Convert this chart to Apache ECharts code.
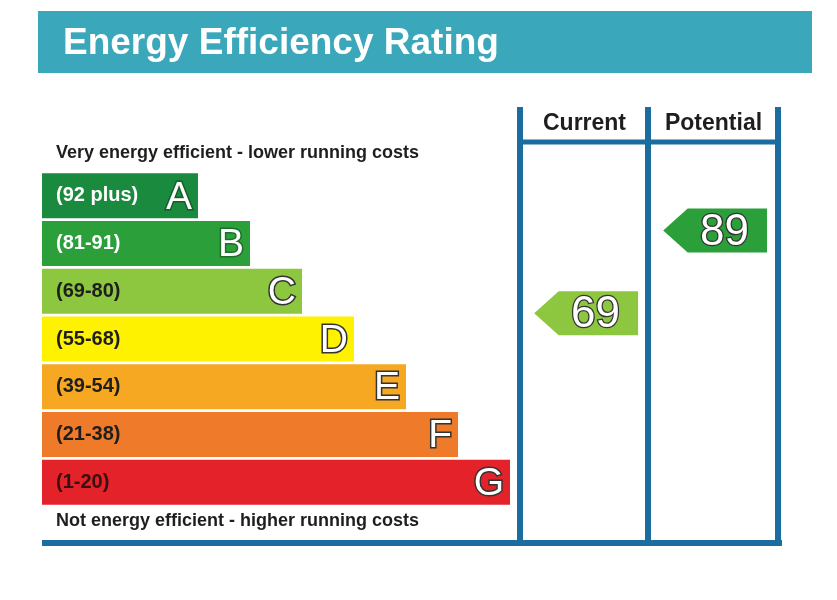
<!DOCTYPE html>
<html>
<head>
<meta charset="utf-8">
<script src="https://cdn.jsdelivr.net/npm/echarts@6/dist/echarts.min.js"></script>
<style>html,body{margin:0;padding:0;background:#fff}#c{width:837px;height:600px}</style>
</head>
<body>
<div id="c"></div>
<script>
const titleText = 'Energy Efficiency Rating';
const topNote = 'Very energy efficient - lower running costs';
const bottomNote = 'Not energy efficient - higher running costs';
const categories = ['A', 'B', 'C', 'D', 'E', 'F', 'G'];
const rangeLabels = ['(92 plus)', '(81-91)', '(69-80)', '(55-68)', '(39-54)', '(21-38)', '(1-20)'];
const bandLow = [92, 81, 69, 55, 39, 21, 1];
const bandHigh = [100, 91, 80, 68, 54, 38, 20];
const barLengths = [3, 4, 5, 6, 7, 8, 9];
const bandColors = ['#1a8a3e', '#2a9f3a', '#8dc63f', '#fff200', '#f7a823', '#ee7a2a', '#e3222a'];
const rangeTextColors = ['#ffffff', '#ffffff', '#1e1e1e', '#1e1e1e', '#1e1e1e', '#1e1e1e', '#3a0f0f'];
const letterBorderColors = ['#145e2a', '#1d6e2a', '#333333', '#333333', '#333333', '#333333', '#333333'];
const columns = ['Current', 'Potential'];
const ratings = [69, 89];

const FONT = '"Liberation Sans", Arial, sans-serif';
const FRAME = '#1b6c9f';

function bandIndex(v) {
  for (let i = 0; i < bandLow.length; i++) if (v >= bandLow[i] && v <= bandHigh[i]) return i;
  return bandLow.length - 1;
}
const arrowData = ratings.map((v, ci) => {
  const bi = bandIndex(v);
  const pos = bi + (bandHigh[bi] - v + 0.5) / (bandHigh[bi] - bandLow[bi] + 1);
  return [ci, pos, v, bi];
});

const chart = echarts.init(document.getElementById('c'), null, {renderer: 'canvas'});

function renderArrow(params, api) {
  const ci = api.value(0), pos = api.value(1), v = api.value(2), bi = api.value(3);
  const c = api.coord([ci, pos]);
  const w = api.size([1, 0])[0];
  const h = 22;
  const tip = c[0] - 0.39 * w, sh = c[0] - 0.2 * w, right = c[0] + 0.415 * w;
  return {
    type: 'group',
    children: [
      {type: 'polygon', shape: {points: [[tip, c[1]], [sh, c[1] - h], [right, c[1] - h], [right, c[1] + h], [sh, c[1] + h]]},
       style: {fill: bandColors[bi]}},
      {type: 'text', x: c[0] + 0.085 * w, y: c[1] + 2,
       style: {text: String(v), fill: '#ffffff', stroke: '#333333', lineWidth: 2.5, font: '44px ' + FONT, align: 'center', verticalAlign: 'middle'}}
    ]
  };
}

const option = {
  backgroundColor: '#ffffff',
  animation: false,
  title: {
    text: titleText, left: 63, top: 25, padding: 0,
    textStyle: {color: '#ffffff', fontSize: 37, fontWeight: 'bold', fontFamily: FONT}
  },
  grid: [
    {left: 42, top: 172, width: 468, height: 334},
    {left: 520, top: 172, width: 258, height: 334}
  ],
  xAxis: [
    {gridIndex: 0, type: 'value', min: 0, max: 9, show: false},
    {gridIndex: 1, type: 'category', data: columns, position: 'top',
     axisLine: {show: false}, axisTick: {show: false}, splitLine: {show: false},
     axisLabel: {margin: 37, color: '#1e1e1e', fontSize: 23, fontWeight: 'bold', fontFamily: FONT}}
  ],
  yAxis: [
    {gridIndex: 0, type: 'category', data: categories, inverse: true, show: false},
    {gridIndex: 1, type: 'value', min: 0, max: 7, inverse: true, show: false}
  ],
  graphic: [
    {type: 'rect', z: -1, shape: {x: 38, y: 11, width: 774, height: 62}, style: {fill: '#3aa7ba'}},
    {type: 'text', x: 56, y: 153, style: {text: topNote, fill: '#1e1e1e', font: 'bold 18px ' + FONT, verticalAlign: 'middle'}},
    {type: 'text', x: 56, y: 521, style: {text: bottomNote, fill: '#1e1e1e', font: 'bold 18px ' + FONT, verticalAlign: 'middle'}},
    {type: 'line', shape: {x1: 520, y1: 107, x2: 520, y2: 546}, style: {stroke: FRAME, lineWidth: 6}},
    {type: 'line', shape: {x1: 648, y1: 107, x2: 648, y2: 546}, style: {stroke: FRAME, lineWidth: 6}},
    {type: 'line', shape: {x1: 778, y1: 107, x2: 778, y2: 546}, style: {stroke: FRAME, lineWidth: 6}},
    {type: 'line', shape: {x1: 520, y1: 142, x2: 778, y2: 142}, style: {stroke: FRAME, lineWidth: 5}},
    {type: 'line', shape: {x1: 42, y1: 543, x2: 782, y2: 543}, style: {stroke: FRAME, lineWidth: 6}}
  ],
  series: [
    {
      type: 'bar', xAxisIndex: 0, yAxisIndex: 0, barWidth: 45,
      data: barLengths.map((v, i) => ({
        value: v,
        itemStyle: {color: bandColors[i]},
        label: {textBorderColor: letterBorderColors[i]}
      })),
      label: {show: true, position: 'insideRight', distance: 6, offset: [0, 2], formatter: '{b}',
        color: '#ffffff', fontSize: 39, fontFamily: FONT, textBorderWidth: 3}
    },
    {
      type: 'bar', xAxisIndex: 0, yAxisIndex: 0, barWidth: 45, barGap: '-100%',
      data: barLengths.map((v, i) => ({
        value: v,
        label: {color: rangeTextColors[i], formatter: rangeLabels[i]}
      })),
      itemStyle: {color: 'rgba(0,0,0,0)'},
      label: {show: true, position: 'insideLeft', distance: 14, fontSize: 20, fontWeight: 'bold', fontFamily: FONT}
    },
    {
      type: 'custom', xAxisIndex: 1, yAxisIndex: 1,
      renderItem: renderArrow, data: arrowData, clip: false
    }
  ]
};
chart.setOption(option);
</script>
</body>
</html>
